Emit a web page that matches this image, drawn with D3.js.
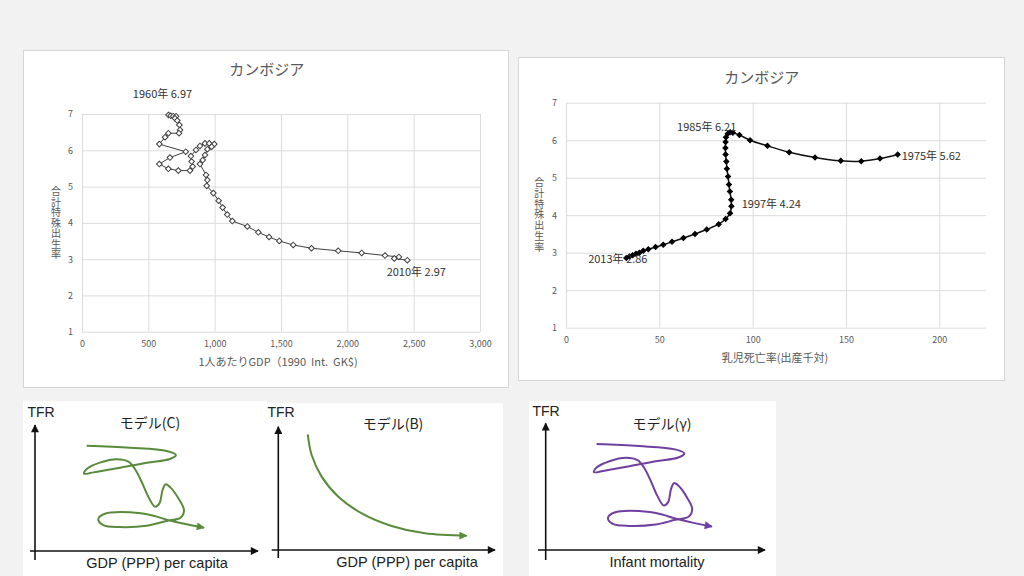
<!DOCTYPE html>
<html><head><meta charset="utf-8">
<script src="https://cdn.jsdelivr.net/npm/d3@7"></script>
<style>
html,body{margin:0;padding:0;background:#f2f2f2;}
svg{display:block;}
text{font-family:"Noto Sans CJK JP","Noto Sans",sans-serif;}
.lat{font-family:"Liberation Sans",Arial,sans-serif;}
.vt{writing-mode:vertical-rl;text-orientation:upright;}
</style></head><body>
<svg id="c" width="1024" height="576"></svg>
<script>
// ---------- DATA ----------
// Chart 1: GDP per capita vs TFR, 1960-2010
const startYear1 = 1960;
const gdp1 = [652,669,688,709,701,718,734,739,731,651,626,583,782,663,583,651,726,814,834,826,821,859,889,927,959,997,977,945,927,910,889,935,945,940,990,1030,1060,1095,1133,1246,1329,1410,1487,1592,1730,1931,2108,2284,2389,2354,2452];
const tfr1 = [6.97,6.95,6.94,6.94,6.88,6.82,6.70,6.56,6.47,6.47,6.36,6.17,5.96,5.80,5.62,5.49,5.44,5.44,5.55,5.69,5.84,6.01,6.12,6.19,6.19,6.17,6.10,6.03,5.87,5.73,5.62,5.32,5.18,5.02,4.82,4.61,4.42,4.23,4.05,3.90,3.74,3.61,3.50,3.39,3.30,3.23,3.17,3.10,3.06,3.02,2.97];
const labelYears1 = [1960, 2010];
const gdpTicks = [0,500,1000,1500,2000,2500,3000];

// Chart 2: infant mortality vs TFR, 1975-2013
const startYear2 = 1975;
const imr2 = [177.7,168.2,158.2,147.2,133.4,119.6,107.9,98.6,92.9,89.4,87.9,86.6,85.7,85.5,85.4,85.5,85.9,86.2,86.8,87.3,87.8,88.5,88.6,87.9,85.5,81.8,75.4,69.1,62.9,56.8,52.1,48.0,44.1,41.4,39.3,37.5,35.7,34.0,32.3];
const tfr2 = [5.62,5.51,5.44,5.45,5.54,5.68,5.85,6.00,6.14,6.20,6.21,6.17,6.08,5.95,5.79,5.62,5.43,5.24,5.03,4.82,4.63,4.41,4.24,4.05,3.90,3.76,3.62,3.50,3.39,3.29,3.21,3.15,3.09,3.05,3.00,2.97,2.93,2.90,2.86];
const labelYears2 = [1975, 1985, 1997, 2013];
const imrTicks = [0,50,100,150,200];
const tfrTicks = [1,2,3,4,5,6,7];

// Sketch models (normalized 0-100 along each axis)
const modelCx = [23.2,42.6,59.0,63.2,60.5,50.1,38.1,26.2,22.0,23.2,29.1,36.6,41.9,44.8,47.8,50.8,53.8,55.8,57.2,58.6,60.8,64.3,66.8,65.3,59.0,50.1,38.1,30.6,28.4,31.4,42.6,53.1,59.0,68.0,75.8];
const modelCy = [83.6,82.0,79.4,76.2,73.0,70.1,66.1,62.4,61.4,65.1,70.1,72.8,70.9,65.1,55.0,43.1,35.2,37.8,48.4,52.9,50.3,41.8,32.5,26.5,23.8,20.1,19.0,20.6,25.4,29.6,30.7,28.0,24.8,21.2,18.5];
const modelBx = [13.6,15.4,20.0,27.7,38.5,52.3,67.7,86.9];
const modelBy = [93.8,77.0,59.5,43.2,29.7,19.5,13.5,11.6];

// ---------- DRAW ----------
const svg = d3.select('#c');
const defs = svg.append('defs');
function arrow(id, color, w, h){
  defs.append('marker').attr('id',id).attr('viewBox','0 0 10 10')
    .attr('refX',9).attr('refY',5).attr('markerUnits','userSpaceOnUse')
    .attr('markerWidth',w).attr('markerHeight',h).attr('orient','auto')
    .append('path').attr('d','M0,0L10,5L0,10Z').attr('fill',color);
}
const green = '#5a8a3c', purple = '#7040a0';
arrow('aBlack','#111',9,8);
arrow('aGreen',green,10,8);
arrow('aPurple',purple,10,8);

function scatterChart(o){
  svg.append('rect').attr('x',o.box[0]+0.5).attr('y',o.box[1]+0.5).attr('width',o.box[2]).attr('height',o.box[3])
    .attr('fill','#fff').attr('stroke','#d6d6d6');
  const x = d3.scaleLinear(o.xDomain,[o.left,o.right]);
  const y = d3.scaleLinear([1,7],[o.bottom,o.top]);
  const g = svg.append('g');
  g.append('g').attr('transform',`translate(0,${o.bottom})`)
    .call(d3.axisBottom(x).tickValues(o.xTicks).tickSize(-(o.bottom-o.top)).tickPadding(9).tickFormat(d3.format(',')))
    .call(a=>a.select('.domain').remove())
    .call(a=>a.selectAll('line').attr('stroke','#dcdcdc'))
    .call(a=>a.selectAll('text').attr('fill','#595959').style('font-size','9px').style('font-family','"Noto Sans CJK JP",sans-serif'));
  g.append('g').attr('transform',`translate(${o.left},0)`)
    .call(d3.axisLeft(y).tickValues(tfrTicks).tickSize(-(o.right-o.left)).tickPadding(9).tickFormat(d3.format('d')))
    .call(a=>a.select('.domain').remove())
    .call(a=>a.selectAll('line').attr('stroke','#dcdcdc'))
    .call(a=>a.selectAll('text').attr('fill','#595959').style('font-size','9px').style('font-family','"Noto Sans CJK JP",sans-serif'));
  svg.append('text').attr('x',o.titleX).attr('y',o.titleY).attr('dy','0.35em').attr('text-anchor','middle')
    .attr('fill','#595959').style('font-size','15px').text('カンボジア');
  svg.append('text').attr('x',o.xtX).attr('y',o.xtY).attr('dy','0.35em').attr('text-anchor','middle')
    .attr('fill','#595959').style('font-size','11px').style('white-space','pre').text(o.xTitle);
  // vertical y-axis title
  svg.append('text').attr('class','vt').attr('x',o.ytX).attr('y',o.ytY).attr('text-anchor','middle')
    .attr('fill','#595959').style('font-size','10px').style('letter-spacing',o.ytLS+'px').text('合計特殊出生率');
  const pts = o.xs.map((v,i)=>({x:v,y:o.ys[i],year:o.start+i}));
  const line = d3.line().x(d=>x(d.x)).y(d=>y(d.y)).curve(o.curve);
  g.append('path').attr('d',line(pts)).attr('fill','none').attr('stroke',o.lineColor).attr('stroke-width',o.lineWidth);
  g.selectAll('.m').data(pts).enter().append('path')
    .attr('d',d3.symbol(d3.symbolSquare,o.msize)())
    .attr('transform',d=>`translate(${x(d.x)},${y(d.y)}) rotate(45)`)
    .attr('fill',o.mfill).attr('stroke',o.mstroke).attr('stroke-width',1);
  o.labels.forEach(l=>{
    const d = pts.find(p=>p.year===l.year);
    svg.append('text').attr('x',x(d.x)+l.dx).attr('y',y(d.y)+l.dy).attr('dy','0.35em')
      .attr('text-anchor',l.anchor).attr('fill','#333').style('font-size','11px')
      .text(`${d.year}年 ${d.y.toFixed(2)}`);
  });
}

const off1 = {1960:{dx:-6,dy:-20.8,anchor:'middle'},2010:{dx:9,dy:11.5,anchor:'middle'}};
scatterChart({
  box:[23,50,485,337], left:82, right:480, top:114, bottom:331.7,
  xDomain:[0,3000], xTicks:gdpTicks, xs:gdp1, ys:tfr1, start:startYear1,
  titleX:266.7, titleY:70, xtX:278, xtY:362, xTitle:'1人あたりGDP（1990  Int.  GK$)',
  ytX:56, ytY:223, ytLS:0.5,
  curve:d3.curveLinear, lineColor:'#404040', lineWidth:1,
  msize:16, mfill:'#fff', mstroke:'#404040',
  labels:labelYears1.map(yr=>({year:yr,...off1[yr]}))
});
const off2 = {1975:{dx:4,dy:1.5,anchor:'start'},1985:{dx:-23.4,dy:-5.6,anchor:'middle'},1997:{dx:10.3,dy:-2,anchor:'start'},2013:{dx:-8.5,dy:1.4,anchor:'middle'}};
scatterChart({
  box:[518,57,486,323], left:566, right:986, top:102.7, bottom:327.7,
  xDomain:[0,225], xTicks:imrTicks, xs:imr2, ys:tfr2, start:startYear2,
  titleX:761.7, titleY:77.7, xtX:775, xtY:358.3, xTitle:'乳児死亡率(出産千対)',
  ytX:539.3, ytY:215, ytLS:0.8,
  curve:d3.curveCatmullRom.alpha(0.5), lineColor:'#111', lineWidth:1.5,
  msize:13, mfill:'#000', mstroke:'#000',
  labels:labelYears2.map(yr=>({year:yr,...off2[yr]}))
});

// ---------- SKETCH PANELS ----------
const sketches = [
  {box:[23,401,244,175], ox:35, oy:551, xEnd:258, yTop:425, yBot:560, xStart:30,
   title:'モデル(C)', tX:150, tY:423, xl:'GDP (PPP) per capita', xlX:157, xlY:563, fX:41, fY:411.7,
   px:modelCx, py:modelCy, color:green, mk:'aGreen'},
  {box:[267,403,236,173], ox:278.3, oy:550, xEnd:495, yTop:426.7, yBot:558, xStart:271.7,
   title:'モデル(B)', tX:393, tY:424, xl:'GDP (PPP) per capita', xlX:407, xlY:562, fX:281, fY:412,
   px:modelBx, py:modelBy, color:green, mk:'aGreen'},
  {box:[529,401,247,175], ox:545.7, oy:550, xEnd:765, yTop:423.3, yBot:560, xStart:538,
   title:'モデル(γ)', tX:662, tY:424, xl:'Infant mortality', xlX:657, xlY:562, fX:546, fY:411,
   px:modelCx, py:modelCy, color:purple, mk:'aPurple'}
];
sketches.forEach(s=>{
  svg.append('rect').attr('x',s.box[0]).attr('y',s.box[1]).attr('width',s.box[2]).attr('height',s.box[3]).attr('fill','#fff');
  const x = d3.scaleLinear([0,100],[s.ox,s.xEnd]);
  const y = d3.scaleLinear([0,100],[s.oy,s.yTop]);
  svg.append('line').attr('x1',s.ox).attr('x2',s.ox).attr('y1',s.yBot).attr('y2',s.yTop)
    .attr('stroke','#111').attr('stroke-width',1.6).attr('marker-end','url(#aBlack)');
  svg.append('line').attr('x1',s.xStart).attr('x2',s.xEnd).attr('y1',s.oy).attr('y2',s.oy)
    .attr('stroke','#111').attr('stroke-width',1.6).attr('marker-end','url(#aBlack)');
  svg.append('text').attr('class','lat').attr('x',s.fX).attr('y',s.fY).attr('dy','0.35em').attr('text-anchor','middle')
    .attr('fill','#222').style('font-size','14px').text('TFR');
  svg.append('text').attr('x',s.tX).attr('y',s.tY).attr('dy','0.35em').attr('text-anchor','middle')
    .attr('fill','#222').style('font-size','14px').text(s.title);
  svg.append('text').attr('class','lat').attr('x',s.xlX).attr('y',s.xlY).attr('dy','0.35em').attr('text-anchor','middle')
    .attr('fill','#222').style('font-size','14.5px').text(s.xl);
  const pts = s.px.map((v,i)=>[v,s.py[i]]);
  svg.append('path').attr('d',d3.line().x(d=>x(d[0])).y(d=>y(d[1])).curve(d3.curveCatmullRom.alpha(0.5))(pts))
    .attr('fill','none').attr('stroke',s.color).attr('stroke-width',2).attr('marker-end',`url(#${s.mk})`);
});
</script>
</body></html>
